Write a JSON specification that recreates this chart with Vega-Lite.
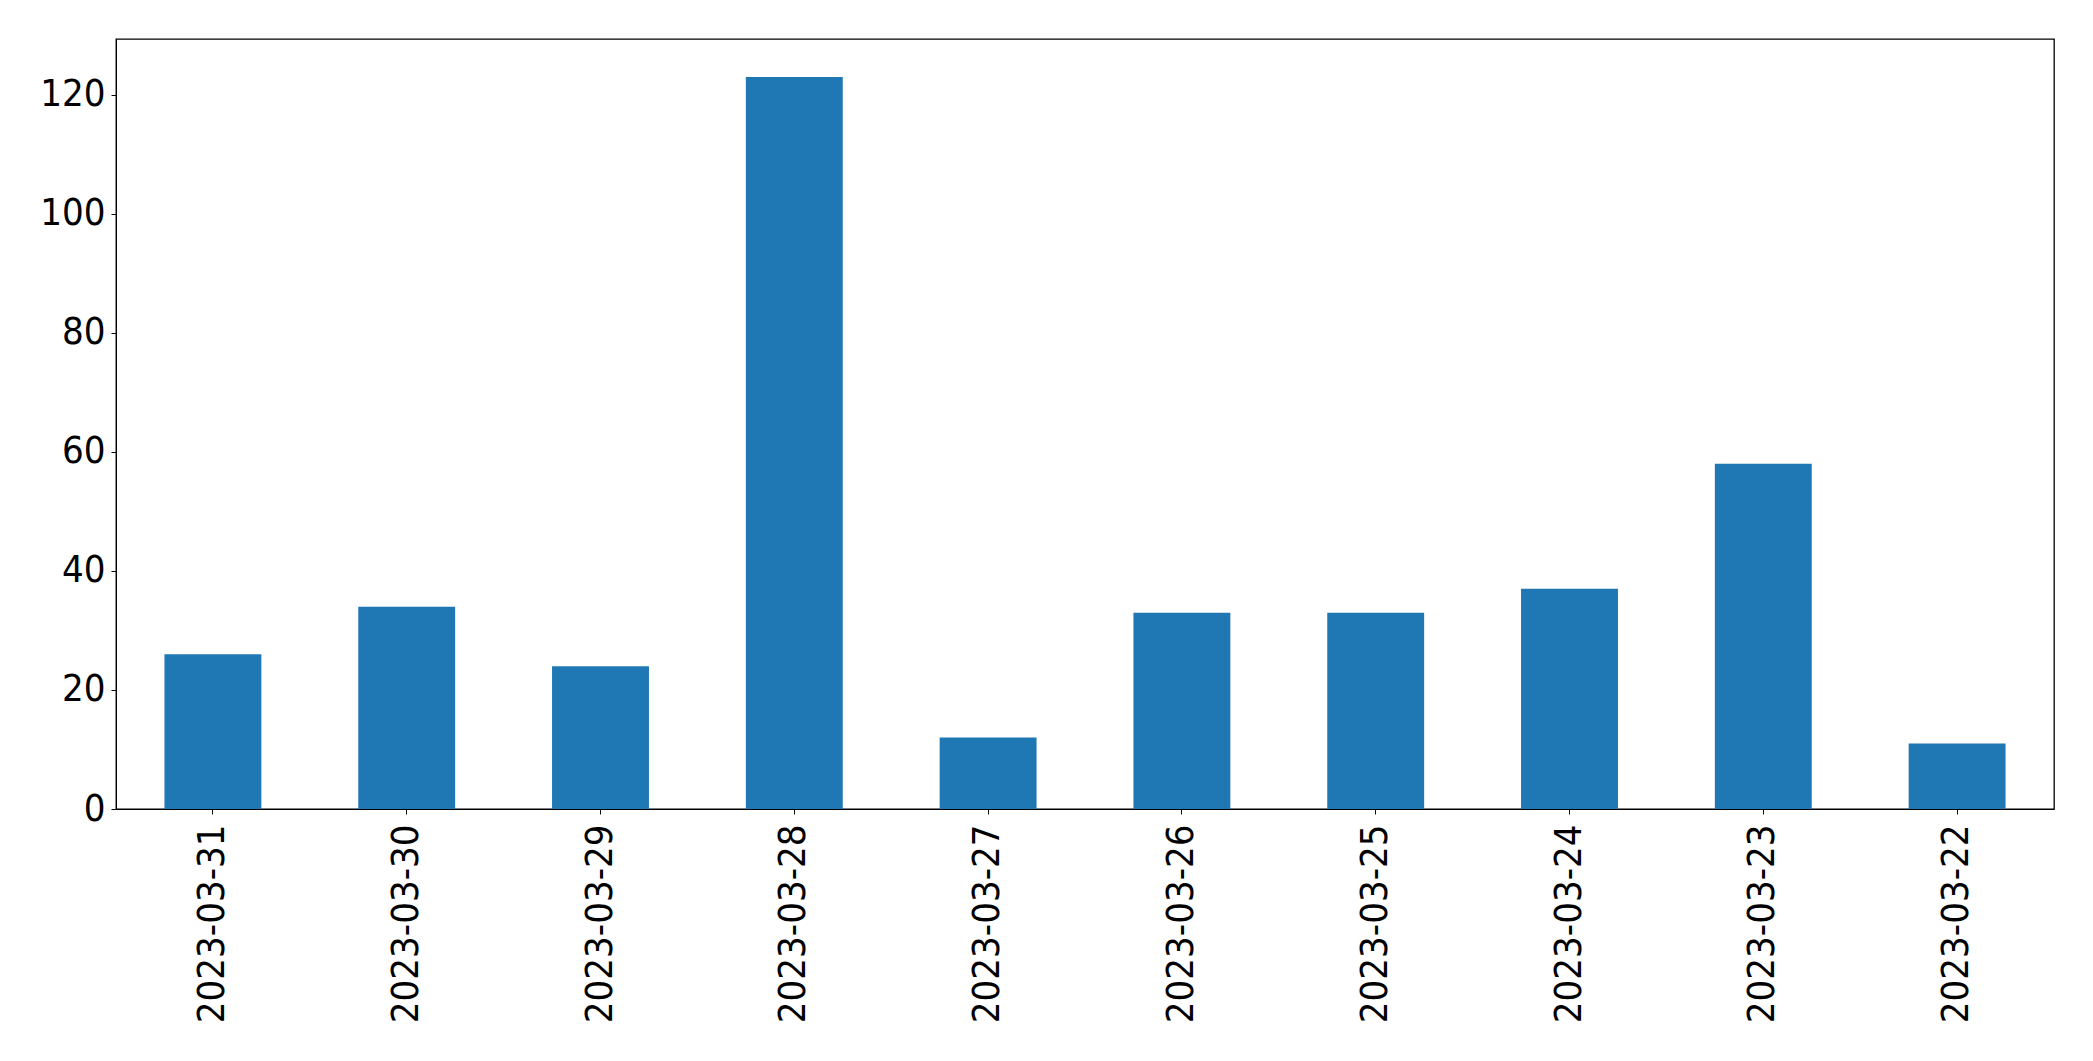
{
  "$schema": "https://vega.github.io/schema/vega-lite/v6.json",
  "width": 1938,
  "height": 770,
  "autosize": {"type": "none"},
  "padding": {"left": 116, "top": 39, "right": 39, "bottom": 252},
  "background": "white",
  "config": {
    "view": {"stroke": "black", "strokeWidth": 1.3},
    "font": "DejaVu Sans Condensed",
    "axis": {
      "labelFont": "DejaVu Sans Condensed",
      "labelFontSize": 38,
      "labelColor": "black",
      "labelLimit": 0,
      "domainColor": "black",
      "tickColor": "black",
      "tickSize": 5,
      "grid": false,
      "title": null
    }
  },
  "data": {
    "values": [
      {"date": "2023-03-31", "count": 26},
      {"date": "2023-03-30", "count": 34},
      {"date": "2023-03-29", "count": 24},
      {"date": "2023-03-28", "count": 123},
      {"date": "2023-03-27", "count": 12},
      {"date": "2023-03-26", "count": 33},
      {"date": "2023-03-25", "count": 33},
      {"date": "2023-03-24", "count": 37},
      {"date": "2023-03-23", "count": 58},
      {"date": "2023-03-22", "count": 11}
    ]
  },
  "mark": {"type": "bar", "color": "#1f77b4"},
  "encoding": {
    "x": {
      "field": "date",
      "type": "nominal",
      "sort": null,
      "scale": {"paddingInner": 0.5, "paddingOuter": 0.25},
      "axis": {"labelAngle": -90, "labelPadding": 10, "labelAlign": "right", "labelBaseline": "middle"}
    },
    "y": {
      "field": "count",
      "type": "quantitative",
      "scale": {"domain": [0, 129.4], "nice": false},
      "axis": {"values": [0, 20, 40, 60, 80, 100, 120], "labelPadding": 6}
    }
  }
}
